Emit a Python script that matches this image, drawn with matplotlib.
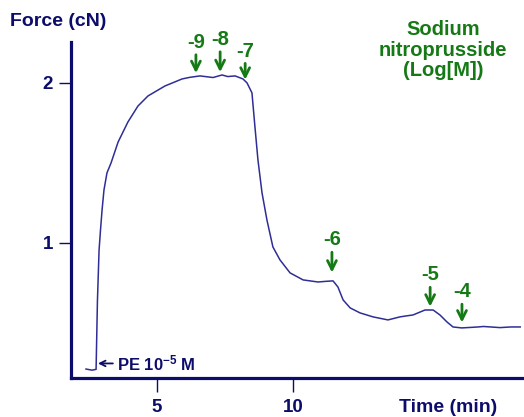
import numpy as np
import matplotlib
matplotlib.use('Agg')
from matplotlib import pyplot as plt

plt.rcParams['font.family'] = ['Liberation Sans', 'DejaVu Sans']
plt.rcParams['font.weight'] = 'bold'
plt.rcParams['mathtext.fontset'] = 'custom'
plt.rcParams['mathtext.rm'] = 'Liberation Sans:bold'
plt.rcParams['mathtext.bf'] = 'Liberation Sans:bold'
plt.rcParams['mathtext.default'] = 'rm'

# force trace (time in min, force in cN)
time_min = [2.39, 2.61, 2.76, 2.81, 2.87, 2.92, 2.98, 3.05, 3.16, 3.31, 3.57, 3.93,
            4.30, 4.67, 5.29, 5.92, 6.20, 6.58, 7.06, 7.39, 7.60, 7.87, 8.16, 8.31,
            8.49, 8.60, 8.71, 8.86, 9.04, 9.26, 9.52, 9.89, 10.37, 10.92, 11.20,
            11.47, 11.65, 11.84, 12.10, 12.46, 12.94, 13.49, 13.93, 14.20, 14.41,
            14.85, 15.15, 15.40, 15.66, 15.88, 16.20, 16.51, 16.80, 17.00, 17.61,
            18.00, 18.35]
force_cn = [0.212, 0.205, 0.210, 0.640, 0.956, 1.075, 1.206, 1.331, 1.438, 1.500,
            1.631, 1.756, 1.856, 1.919, 1.981, 2.025, 2.035, 2.044, 2.034, 2.050,
            2.040, 2.044, 2.025, 2.000, 1.938, 1.725, 1.519, 1.313, 1.144, 0.975,
            0.894, 0.813, 0.769, 0.756, 0.760, 0.763, 0.725, 0.644, 0.594, 0.563,
            0.538, 0.519, 0.538, 0.545, 0.550, 0.581, 0.581, 0.550, 0.506, 0.475,
            0.469, 0.472, 0.475, 0.478, 0.471, 0.475, 0.475]

# sodium nitroprusside additions
snp_time = [6.43, 7.32, 8.24, 11.43, 15.04, 16.21]
snp_labels = ['-9', '-8', '-7', '-6', '-5', '-4']

pe_time = 2.83
pe_label = r'PE 10$^{-5}$ M'

x_ticks = [5, 10]
y_ticks = [1, 2]

navy = '#0c0c6b'
trace_col = '#2e2e96'
green = '#157a15'

fig = plt.figure(figsize=(5.24, 4.17), dpi=100)
ax = fig.add_axes([71 / 524, 39 / 417, 453 / 524, 336 / 417])
ax.plot(time_min, force_cn, color=trace_col, lw=1.1)

ax.set_xlim(1.838, 18.49)
ax.set_ylim(0.156, 2.256)

for side in ['top', 'right']:
    ax.spines[side].set_visible(False)
for side in ['left', 'bottom']:
    ax.spines[side].set_color(navy)
    ax.spines[side].set_linewidth(2.3)

ax.set_xticks(x_ticks)
ax.set_yticks(y_ticks)
ax.tick_params(axis='y', direction='out', length=9, width=1.0, color=navy,
               labelcolor=navy, labelsize=13.5, pad=4)
ax.tick_params(axis='x', direction='out', length=10, width=1.0, color=navy,
               labelcolor=navy, labelsize=13.5, pad=5)

fig.text(10 / 524, 1 - 22 / 417, 'Force (cN)', color=navy, fontsize=14,
         ha='left', va='center')
fig.text(448 / 524, 1 - 407 / 417, 'Time (min)', color=navy, fontsize=14,
         ha='center', va='center')
fig.text(443 / 524, 1 - 50 / 417, 'Sodium\nnitroprusside\n(Log[M])', color=green,
         fontsize=14.5, ha='center', va='center', linespacing=1.1)

# arrow gaps above trace (px) and label offsets (px)
tip_gap = [2, 2, 0, 7, 2, 4]
label_off = [34, 36, 30, 41, 35, 36]
trace_at = np.interp(snp_time, time_min, force_cn)
for t, f, lab, g, off in zip(snp_time, trace_at, snp_labels, tip_gap, label_off):
    ax.annotate(lab, xy=(t, f), xytext=(0, off), textcoords='offset pixels',
                ha='center', va='center', color=green, fontsize=14.5,
                arrowprops=dict(arrowstyle='->', color=green, lw=2.0,
                                shrinkA=0, shrinkB=g * 0.72 + 1,
                                mutation_scale=16))

pe_y = force_cn[0] + 0.035
ax.annotate(pe_label, xy=(pe_time, pe_y), xytext=(3.53, pe_y),
            ha='left', va='center', color=navy, fontsize=12,
            arrowprops=dict(arrowstyle='->', color=navy, lw=1.3,
                            shrinkA=1, shrinkB=0, mutation_scale=10))

fig.savefig('out.png', dpi=100)
